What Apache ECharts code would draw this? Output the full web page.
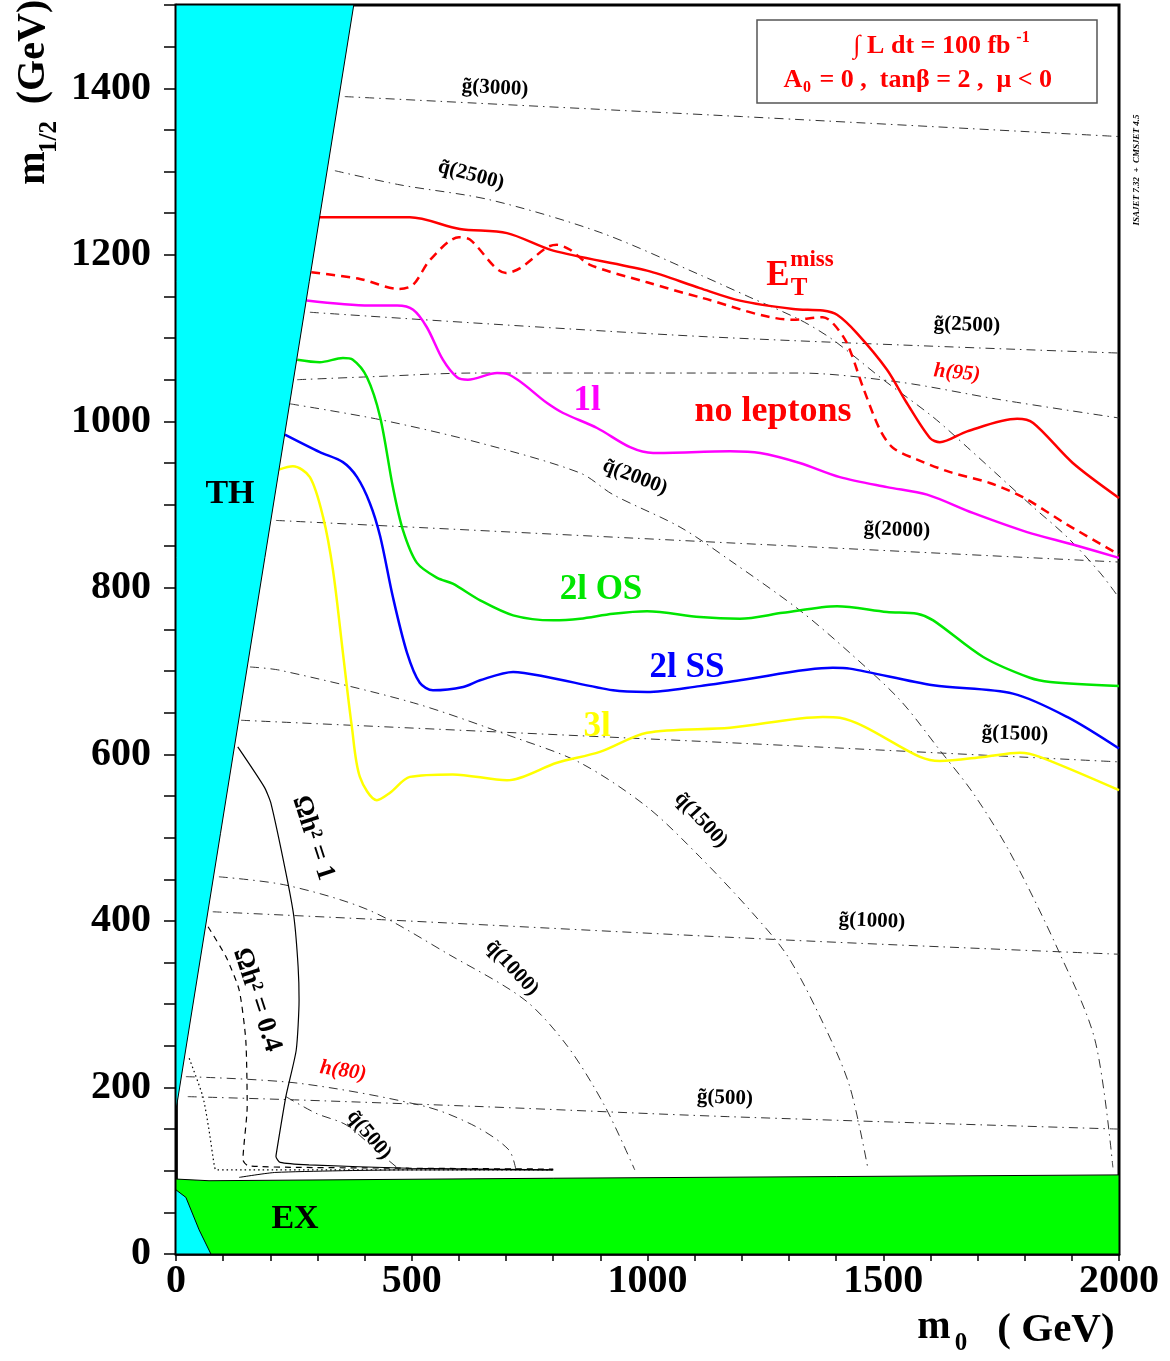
<!DOCTYPE html>
<html>
<head>
    <meta charset="utf-8">
    <title>SUSY reach m0 - m1/2</title>
    <script src="https://cdn.jsdelivr.net/npm/echarts@6/dist/echarts.min.js"></script>
    <style>html, body { margin: 0; padding: 0; background: #fff; }</style>
</head>
<body>
    <div id="main" style="width: 1170px;height:1361px;"></div>
    <script type="text/javascript">
        // axis labels
        var xLabels = [0, 500, 1000, 1500, 2000]
        var yLabels = [0, 200, 400, 600, 800, 1000, 1200, 1400]

        // shaded regions (m0, m1/2)
        var thRegion = [[0, 1500], [377, 1500], [0, 173]]
        var exRegion = [[0, 90], [70, 88], [800, 91], [2000, 95], [2000, 0], [0, 0]]
        var exCyan = [[0, 77], [21, 68], [49, 29], [74, 0], [0, 0]]

        // reach contours, 100 fb-1
        var etMissSolid = [[305, 1245], [496, 1245], [602, 1231], [702, 1226], [800, 1205], [999, 1181], [1111, 1160], [1196, 1145], [1309, 1135], [1372, 1133], [1402, 1128], [1444, 1106], [1508, 1062], [1550, 1022], [1599, 980], [1620, 975], [1678, 988], [1784, 1003], [1818, 998], [1902, 950], [2000, 908]]
        var etMissDashed = [[287, 1179], [390, 1171], [473, 1159], [503, 1164], [539, 1194], [600, 1221], [624, 1218], [700, 1178], [730, 1184], [787, 1209], [808, 1212], [836, 1206], [878, 1188], [999, 1167], [1111, 1149], [1309, 1122], [1372, 1125], [1393, 1118], [1423, 1094], [1457, 1041], [1493, 990], [1521, 968], [1572, 954], [1642, 939], [1726, 926], [1796, 909], [1890, 876], [2000, 840]]
        var oneLep = [[277, 1145], [411, 1139], [469, 1139], [503, 1134], [532, 1113], [566, 1074], [596, 1053], [619, 1050], [681, 1058], [702, 1057], [787, 1022], [821, 1010], [893, 992], [963, 969], [1012, 962], [1175, 964], [1239, 962], [1323, 950], [1408, 933], [1508, 921], [1593, 912], [1690, 890], [1805, 867], [1902, 852], [2000, 836]]
        var twoLepOS = [[257, 1074], [305, 1071], [354, 1076], [375, 1074], [405, 1053], [433, 1005], [460, 921], [481, 870], [511, 830], [554, 812], [587, 805], [645, 785], [715, 767], [800, 761], [857, 763], [927, 769], [999, 772], [1111, 765], [1196, 763], [1287, 770], [1402, 778], [1508, 771], [1572, 769], [1606, 761], [1712, 717], [1811, 692], [1854, 687], [2000, 682]]
        var twoLepSS = [[231, 984], [305, 963], [354, 951], [384, 933], [411, 902], [433, 862], [460, 789], [490, 722], [517, 686], [545, 677], [609, 681], [645, 689], [715, 699], [787, 693], [927, 677], [999, 675], [1111, 682], [1196, 689], [1393, 704], [1429, 703], [1606, 683], [1775, 673], [1890, 645], [2000, 607]]
        var threeLep = [[218, 942], [248, 946], [284, 933], [312, 885], [333, 821], [354, 722], [373, 633], [390, 573], [426, 545], [454, 554], [496, 573], [587, 576], [702, 569], [808, 590], [899, 603], [999, 626], [1175, 632], [1372, 645], [1408, 644], [1578, 597], [1620, 592], [1712, 597], [1790, 602], [1832, 597], [2000, 557]]

        // mass contours (dash-dot)
        var gluino3000 = [[358, 1390], [1200, 1366], [2000, 1342]]
        var squark2500 = [[337, 1301], [475, 1284], [666, 1266], [899, 1227], [1111, 1176], [1217, 1149], [1323, 1122], [1393, 1098], [1500, 1050], [1606, 1005], [1678, 969], [1748, 933], [1818, 897], [1890, 861], [1960, 818], [2000, 788]]
        var gluino2500 = [[284, 1131], [1111, 1102], [2000, 1082]]
        var higgs95 = [[257, 1050], [433, 1054], [630, 1058], [1175, 1058], [1323, 1058], [1536, 1047], [1748, 1026], [2000, 1004]]
        var squark2000 = [[242, 1021], [433, 1002], [645, 974], [857, 938], [927, 912], [1069, 873], [1175, 833], [1323, 773], [1429, 722], [1536, 665], [1620, 605], [1690, 554], [1769, 482], [1871, 365], [1949, 257], [1987, 104]]
        var gluino2000 = [[212, 881], [1175, 854], [2000, 831]]
        var gluino1500 = [[138, 641], [1175, 614], [2000, 591]]
        var squark1500 = [[157, 705], [221, 701], [503, 662], [715, 621], [857, 590], [999, 537], [1111, 477], [1222, 410], [1298, 357], [1376, 273], [1429, 201], [1468, 101]]
        var gluino1000 = [[78, 411], [454, 401], [1298, 377], [2000, 360]]
        var squark1000 = [[91, 453], [233, 443], [409, 413], [581, 359], [740, 305], [831, 249], [910, 177], [973, 101]]
        var gluino500 = [[25, 189], [259, 185], [649, 177], [1169, 165], [2000, 150]]
        var higgs80 = [[21, 213], [261, 205], [530, 177], [636, 153], [706, 125], [721, 101]]
        var squark500 = [[233, 189], [297, 169], [361, 155], [424, 125], [475, 101]]

        // relic density and LEP lines
        var omega1 = [[131, 609], [187, 561], [201, 542], [233, 458], [250, 405], [259, 345], [261, 305], [255, 245], [233, 189], [214, 125], [212, 117], [221, 110], [282, 107], [494, 103], [800, 101]]
        var omega04 = [[68, 393], [106, 357], [134, 317], [148, 257], [151, 177], [142, 113], [153, 106], [263, 104], [800, 102]]
        var dottedLep = [[28, 235], [57, 189], [70, 149], [81, 107], [85, 101], [800, 101]]
        var lowSolid = [[134, 92], [212, 98], [494, 101], [800, 101]]

        var FONT = '"Liberation Serif", "DejaVu Serif", serif'
        var DASHDOT = [9, 5, 1.5, 5]

        var myChart = echarts.init(document.getElementById("main"))

        function curve(data, color, width, type, smooth) {
            return {
                type: "line",
                data: data,
                symbol: "none",
                smooth: smooth === undefined ? 0.3 : smooth,
                silent: true,
                lineStyle: { color: color, width: width, type: type || "solid" },
                z: 3
            }
        }

        function region(points, color) {
            return {
                type: "custom",
                data: points,
                encode: { x: 0, y: 1 },
                silent: true,
                z: 5,
                renderItem: function (params, api) {
                    if (params.dataIndex !== 0) return null
                    var pts = points.map(function (p) { return api.coord(p) })
                    return {
                        type: "polygon",
                        shape: { points: pts },
                        style: { fill: color, stroke: "#000", lineWidth: 1 }
                    }
                }
            }
        }

        function txt(x, y, text, size, color, opts) {
            opts = opts || {}
            return {
                type: "text",
                x: x,
                y: y,
                rotation: (opts.rot || 0) * Math.PI / 180,
                z: 100,
                style: {
                    text: text,
                    fill: color,
                    font: (opts.italic ? "italic " : "") + (opts.normal ? "normal " : "bold ") + size + "px " + FONT,
                    align: opts.align || "center",
                    verticalAlign: "middle",
                    textAlign: opts.align || "center",
                    textVerticalAlign: "middle"
                }
            }
        }

        var tilde = "\u0303"
        var graphics = [
            // legend box
            {
                type: "rect", z: 100,
                shape: { x: 757, y: 20, width: 340, height: 83 },
                style: { fill: "#fff", stroke: "#555", lineWidth: 1.5 }
            },
            txt(932, 46, "\u222B L dt = 100 fb", 26, "#ff0000"),
            txt(1023, 38, "-1", 16, "#ff0000"),
            txt(793, 80, "A", 26, "#ff0000"),
            txt(807, 88, "0", 16, "#ff0000"),
            txt(813, 80, " = 0 ,  tan\u03B2 = 2 ,  \u03BC < 0", 26, "#ff0000", { align: "left" }),
            txt(1137, 170, "ISAJET 7.32  +  CMSJET 4.5", 9, "#000", { rot: 90, italic: true }),

            // axis titles
            txt(34, 52, "(GeV)", 40, "#000", { rot: 90 }),
            txt(34, 168, "m", 40, "#000", { rot: 90 }),
            txt(50, 137, "1/2", 25, "#000", { rot: 90 }),
            txt(934, 1328, "m", 40, "#000"),
            txt(961, 1344, "0", 25, "#000"),
            txt(1056, 1330, "( GeV)", 41, "#000"),

            // region / channel labels
            txt(230, 494, "TH", 34, "#000"),
            txt(295, 1219, "EX", 34, "#000"),
            txt(587, 401, "1l", 35, "#ff00ff"),
            txt(773, 412, "no leptons", 36, "#ff0000"),
            txt(778, 276, "E", 35, "#ff0000"),
            txt(799, 289, "T", 25, "#ff0000"),
            txt(812, 260, "miss", 23, "#ff0000"),
            txt(601, 590, "2l OS", 35, "#00e600"),
            txt(687, 668, "2l SS", 35, "#0000ff"),
            txt(597, 727, "3l", 35, "#ffff00"),
            txt(313, 838, "\u03A9h\u00B2 = 1", 27, "#000", { rot: -72 }),
            txt(257, 1000, "\u03A9h\u00B2 = 0.4", 27, "#000", { rot: -72 }),

            // mass contour labels
            txt(495, 88, "g" + tilde + "(3000)", 21, "#000", { rot: -3 }),
            txt(471, 175, "q" + tilde + "(2500)", 21, "#000", { rot: -15 }),
            txt(967, 325, "g" + tilde + "(2500)", 21, "#000", { rot: -2 }),
            txt(957, 373, "h(95)", 21, "#ff0000", { rot: -5, italic: true }),
            txt(635, 477, "q" + tilde + "(2000)", 21, "#000", { rot: -21 }),
            txt(897, 530, "g" + tilde + "(2000)", 21, "#000", { rot: -2 }),
            txt(1015, 734, "g" + tilde + "(1500)", 21, "#000", { rot: -2 }),
            txt(701, 820, "q" + tilde + "(1500)", 21, "#000", { rot: -47 }),
            txt(872, 921, "g" + tilde + "(1000)", 21, "#000", { rot: -2 }),
            txt(512, 968, "q" + tilde + "(1000)", 21, "#000", { rot: -47 }),
            txt(343, 1071, "h(80)", 21, "#ff0000", { rot: -8, italic: true }),
            txt(725, 1098, "g" + tilde + "(500)", 21, "#000", { rot: -2 }),
            txt(369, 1135, "q" + tilde + "(500)", 21, "#000", { rot: -50 })
        ]

        var option = {
            animation: false,
            backgroundColor: "#fff",
            grid: {
                left: 176, right: 51, top: 5, bottom: 107,
                show: true, borderColor: "#000", borderWidth: 3
            },
            xAxis: {
                type: "value", min: 0, max: 2000, interval: 100,
                axisLine: { show: true, onZero: false, lineStyle: { color: "#000", width: 2.5 } },
                axisTick: { show: true, length: 7, lineStyle: { color: "#000", width: 1.5 } },
                splitLine: { show: false },
                axisLabel: {
                    margin: 8, color: "#000", fontSize: 40, fontWeight: "bold", fontFamily: FONT,
                    formatter: function (v) { return xLabels.indexOf(v) >= 0 ? String(v) : "" }
                }
            },
            yAxis: {
                type: "value", min: 0, max: 1500, interval: 50,
                axisLine: { show: true, onZero: false, lineStyle: { color: "#000", width: 2.5 } },
                axisTick: { show: true, length: 12, lineStyle: { color: "#000", width: 1.5 } },
                splitLine: { show: false },
                axisLabel: {
                    margin: 25, color: "#000", fontSize: 40, fontWeight: "bold", fontFamily: FONT,
                    formatter: function (v) { return yLabels.indexOf(v) >= 0 ? String(v) : "" }
                }
            },
            graphic: graphics,
            series: [
                curve(gluino3000, "#333", 1, DASHDOT),
                curve(squark2500, "#333", 1, DASHDOT),
                curve(gluino2500, "#333", 1, DASHDOT),
                curve(higgs95, "#333", 1, DASHDOT),
                curve(squark2000, "#333", 1, DASHDOT),
                curve(gluino2000, "#333", 1, DASHDOT),
                curve(gluino1500, "#333", 1, DASHDOT),
                curve(squark1500, "#333", 1, DASHDOT),
                curve(gluino1000, "#333", 1, DASHDOT),
                curve(squark1000, "#333", 1, DASHDOT),
                curve(gluino500, "#333", 1, DASHDOT),
                curve(higgs80, "#333", 1, DASHDOT),
                curve(squark500, "#333", 1, DASHDOT),
                curve(omega1, "#000", 1.2, "solid", 0.2),
                curve(omega04, "#000", 1.2, [6, 5], 0.2),
                curve(dottedLep, "#000", 1.2, [1.5, 3], 0.2),
                curve(lowSolid, "#000", 1, "solid", 0.2),
                curve(etMissSolid, "#ff0000", 2.5),
                curve(etMissDashed, "#ff0000", 2.5, [9, 6]),
                curve(oneLep, "#ff00ff", 2.5),
                curve(twoLepOS, "#00e600", 2.5),
                curve(twoLepSS, "#0000ff", 2.5),
                curve(threeLep, "#ffff00", 2.5),
                region(exRegion, "#00ff00"),
                region(exCyan, "#00ffff"),
                region(thRegion, "#00ffff")
            ]
        }

        myChart.setOption(option)
    </script>
</body>
</html>
